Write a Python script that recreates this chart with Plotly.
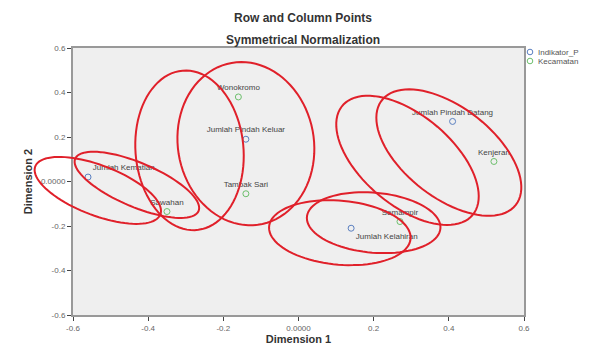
import numpy as np
import plotly.graph_objects as go

# ---- data ----
ind_labels = ["Jumlah Pindah Keluar", "Jumlah Pindah Datang", "Jumlah Kematian", "Jumlah Kelahiran"]
ind_x = [-0.14, 0.41, -0.56, 0.14]
ind_y = [0.19, 0.27, 0.02, -0.21]

kec_labels = ["Wonokromo", "Kenjeran", "Sawahan", "Tambak Sari", "Semampir"]
kec_x = [-0.16, 0.52, -0.35, -0.14, 0.27]
kec_y = [0.38, 0.09, -0.135, -0.055, -0.18]

tick_vals = [-0.6, -0.4, -0.2, 0.0, 0.2, 0.4, 0.6]
tick_text = ["-0.6", "-0.4", "-0.2", "0.0000", "0.2", "0.4", "0.6"]

legend_names = ["Indikator_P", "Kecamatan"]
legend_colors = ["#5a7fc0", "#6cbf6c"]

# hand-drawn red ellipses: centre (data), semi-axes (px), rotation (deg)
ell_cx = [-0.534, -0.43, -0.29, -0.14, 0.29, 0.40, 0.11, 0.20]
ell_cy = [-0.04, -0.015, 0.14, 0.17, 0.095, 0.13, -0.23, -0.185]
ell_a = [67, 67, 80, 82, 85, 85, 71, 67]
ell_b = [25, 22, 54, 68, 45, 45, 32, 30]
ell_ang = [-21, -23, 95, 100, -40, -38, -5, -5]

X_RANGE = [-0.6, 0.6]
Y_RANGE = [-0.6, 0.6]

# page has an 8px body margin, so the figure is shrunk accordingly
W, H = 597, 339
ML, MR, MT, MB = 65, 81, 40, 32
PW = W - ML - MR
PH = H - MT - MB

fig = go.Figure()
fig.add_trace(go.Scatter(
    x=ind_x, y=ind_y, mode="markers+text", name=legend_names[0],
    text=ind_labels, cliponaxis=False, showlegend=False,
    textposition=["top center", "top center", "top right", "bottom right"],
    textfont=dict(size=8, color="#444", family="Arial"),
    marker=dict(symbol="circle-open", size=6, color=legend_colors[0], line=dict(width=1)),
))
fig.add_trace(go.Scatter(
    x=kec_x, y=kec_y, mode="markers+text", name=legend_names[1],
    text=kec_labels, cliponaxis=False, showlegend=False,
    textposition=["top center", "top center", "top center", "top center", "top center"],
    textfont=dict(size=8, color="#444", family="Arial"),
    marker=dict(symbol="circle-open", size=6, color=legend_colors[1], line=dict(width=1)),
))

shapes = []
t = np.linspace(0, 2 * np.pi, 90)
for cx, cy, a, b, ang in zip(ell_cx, ell_cy, ell_a, ell_b, ell_ang):
    th = np.radians(ang)
    u = a * np.cos(t) * np.cos(th) - b * np.sin(t) * np.sin(th)
    v = a * np.cos(t) * np.sin(th) + b * np.sin(t) * np.cos(th)
    # paper coordinates so the hand-drawn rings may spill past the axes
    xs = (cx - X_RANGE[0]) / (X_RANGE[1] - X_RANGE[0]) + u / PW
    ys = (cy - Y_RANGE[0]) / (Y_RANGE[1] - Y_RANGE[0]) + v / PH
    path = "M " + " L ".join(f"{x:.5f},{y:.5f}" for x, y in zip(xs, ys)) + " Z"
    shapes.append(dict(type="path", path=path, xref="paper", yref="paper",
                       line=dict(color="#e0202a", width=2), layer="above"))

# compact legend markers
for i, col in enumerate(legend_colors):
    cxp = (530 - 73) / PW
    cyp = 1 - (4 + 9 * i) / PH
    rx, ry = 2.8 / PW, 2.8 / PH
    shapes.append(dict(type="circle", xref="paper", yref="paper",
                       x0=cxp - rx, x1=cxp + rx, y0=cyp - ry, y1=cyp + ry,
                       line=dict(color=col, width=1)))

fig.update_layout(
    width=W, height=H,
    margin=dict(l=ML, r=MR, t=MT, b=MB, autoexpand=False),
    paper_bgcolor="white", plot_bgcolor="#efefef",
    font=dict(family="Arial", color="#333"),
    shapes=shapes,
    showlegend=False,
)
for i, nm in enumerate(legend_names):
    fig.add_annotation(
        text=nm, xref="paper", yref="paper",
        x=(536 - 73) / PW, y=1 - (4 + 9 * i) / PH,
        xanchor="left", yanchor="middle", showarrow=False, align="left",
        font=dict(size=8, color="#555"))

fig.add_annotation(text="<b>Row and Column Points</b>", xref="paper", yref="paper",
                   x=0.51, y=1 + (48 - 18) / PH, yanchor="middle", showarrow=False,
                   font=dict(size=12, color="#333"))
fig.add_annotation(text="<b>Symmetrical Normalization</b>", xref="paper", yref="paper",
                   x=0.51, y=1 + (48 - 40) / PH, yanchor="middle", showarrow=False,
                   font=dict(size=12, color="#333"))

fig.update_xaxes(range=X_RANGE, tickvals=tick_vals, ticktext=tick_text,
                 tickfont=dict(size=8, color="#666"), ticks="outside", ticklen=4,
                 showgrid=False, zeroline=False, showline=True, linecolor="#999",
                 linewidth=2, mirror=True,
                 title=dict(text="<b>Dimension 1</b>", font=dict(size=11, color="#333"), standoff=2))
fig.update_yaxes(range=Y_RANGE, tickvals=tick_vals, ticktext=tick_text,
                 tickfont=dict(size=8, color="#666"), ticks="outside", ticklen=4,
                 showgrid=False, zeroline=False, showline=True, linecolor="#999",
                 linewidth=2, mirror=True,
                 title=dict(text="<b>Dimension 2</b>", font=dict(size=11, color="#333"), standoff=6))

fig.write_html("out.html")
